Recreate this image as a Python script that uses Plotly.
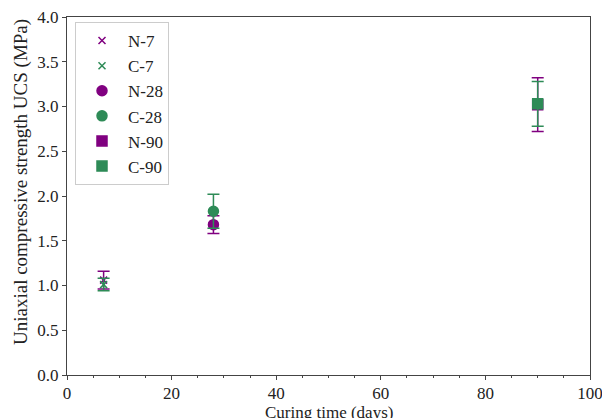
import plotly.graph_objects as go

names = ["N-7", "C-7", "N-28", "C-28", "N-90", "C-90"]
days = [7, 7, 28, 28, 90, 90]
ucs = [1.06, 1.01, 1.68, 1.83, 3.02, 3.03]
err = [0.10, 0.07, 0.10, 0.19, 0.30, 0.25]
colors = ["#800080", "#2e8b57", "#800080", "#2e8b57", "#800080", "#2e8b57"]
symbols = ["x-thin", "x-thin", "circle", "circle", "square", "square"]
x_title = "Curing time (days)"
y_title = "Uniaxial compressive strength UCS (MPa)"

fig = go.Figure()
for n, d, v, e, c, s in zip(names, days, ucs, err, colors, symbols):
    fig.add_trace(go.Scatter(
        x=[d], y=[v], name=n, mode="markers",
        marker=dict(color=c, symbol=s, size=10 if s != "x-thin" else 7,
                    line=dict(color=c, width=1.5)),
        error_y=dict(type="data", array=[e], visible=True, color=c,
                     thickness=1.5, width=6),
    ))

font = "Liberation Serif"
axis_common = dict(
    showline=True, linecolor="#444", linewidth=1.2, mirror=True,
    ticks="outside", ticklen=4, tickcolor="#444", showgrid=False,
    zeroline=False, automargin=False, ticklabeloverflow="allow",
    tickfont=dict(family=font, size=17, color="#222"),
)
fig.update_layout(
    width=610, height=418,
    margin=dict(l=59, r=28, t=9, b=51),
    paper_bgcolor="white", plot_bgcolor="white",
    font=dict(family=font, size=17, color="#222"),
    showlegend=True,
    legend=dict(x=0.0153, y=0.986, xanchor="left", yanchor="top",
                bordercolor="#ccc", borderwidth=1, bgcolor="white",
                font=dict(family=font, size=17), itemwidth=42,
                tracegroupgap=0),
    xaxis=dict(range=[0, 100], dtick=20, tick0=0, ticklabelstandoff=-2,
               minor=dict(dtick=5, ticks="outside", ticklen=2, tickcolor="#444"),
               **axis_common),
    yaxis=dict(range=[0, 4.0], dtick=0.5, tick0=0, tickformat=".1f",
               **axis_common),
    annotations=[
        dict(text=x_title, xref="paper", yref="paper", x=0.5, y=-0.104,
             xanchor="center", yanchor="middle", showarrow=False,
             font=dict(family=font, size=17, color="#222")),
        dict(text=y_title, xref="paper", yref="paper", x=-0.088, y=0.539,
             xanchor="center", yanchor="middle", showarrow=False, textangle=-90,
             font=dict(family=font, size=19, color="#222")),
    ],
)
fig.write_html("out.html")
